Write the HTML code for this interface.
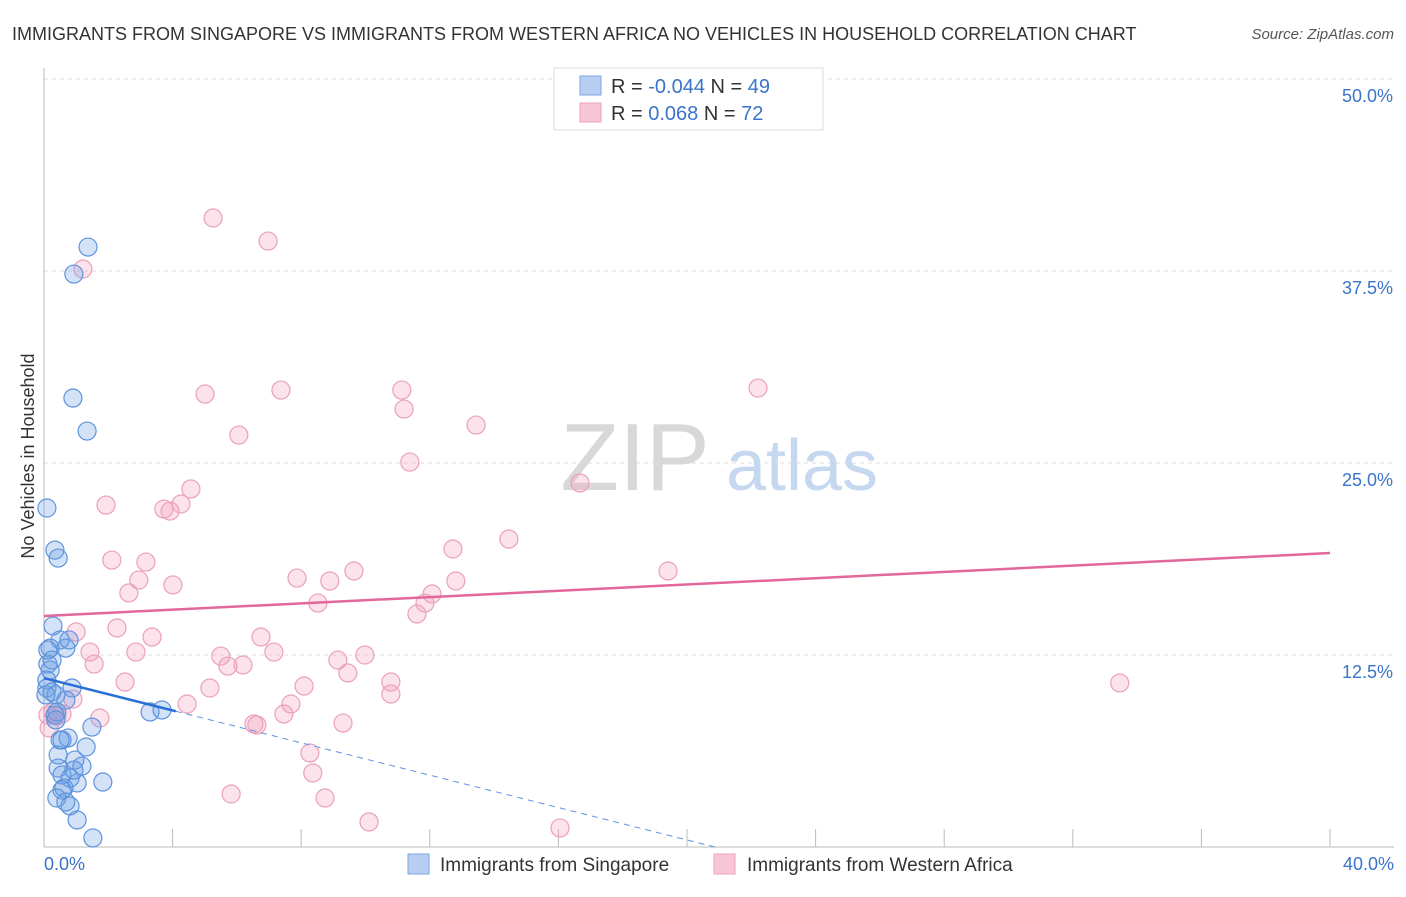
<!DOCTYPE html>
<html><head><meta charset="utf-8"><style>
body{margin:0;background:#fff;font-family:"Liberation Sans",sans-serif;}
svg text{font-family:"Liberation Sans",sans-serif;}
</style></head><body>
<svg id="chart" width="1406" height="892" xmlns="http://www.w3.org/2000/svg">
<text x="12" y="40" font-size="18" fill="#333">IMMIGRANTS FROM SINGAPORE VS IMMIGRANTS FROM WESTERN AFRICA NO VEHICLES IN HOUSEHOLD CORRELATION CHART</text>
<text x="1394" y="39" font-size="15" fill="#555" text-anchor="end" font-style="italic">Source: ZipAtlas.com</text>
<g id="grid"></g>
<g>
<text x="635" y="490" font-size="96" font-family="Liberation Serif,serif" fill="#d8d8d8" text-anchor="middle">ZIP</text>
<text x="802" y="490" font-size="72" fill="#c5d8f0" text-anchor="middle">atlas</text>
</g>
<g id="axes"></g>
<g id="pts"></g>
<g id="trends"></g>
<text transform="translate(34,456) rotate(-90)" font-size="18" fill="#333" text-anchor="middle">No Vehicles in Household</text>
<g>
<rect x="554" y="68" width="269" height="62" fill="#fff" stroke="#ddd"/>
<rect x="580" y="76" width="21" height="19" fill="#b7cff2" stroke="#7ea6e0"/>
<rect x="580" y="103" width="21" height="19" fill="#f7c6d5" stroke="#eea1ba"/>
<text x="611" y="93" font-size="20" fill="#333">R = <tspan fill="#3a74c9">-0.044</tspan>   N = <tspan fill="#3a74c9">49</tspan></text>
<text x="611" y="120" font-size="20" fill="#333">R =   <tspan fill="#3a74c9">0.068</tspan>   N = <tspan fill="#3a74c9"> 72</tspan></text>
</g>
<g>
<rect x="408" y="854" width="21" height="20" fill="#b7cff2" stroke="#7ea6e0"/>
<text x="440" y="871" font-size="19" fill="#333">Immigrants from Singapore</text>
<rect x="714" y="854" width="21" height="20" fill="#f7c6d5" stroke="#eea1ba"/>
<text x="747" y="871" font-size="19" fill="#333">Immigrants from Western Africa</text>
</g>
</svg>
<script>
const blueX=[1.37,0.93,0.90,1.34,0.09,0.34,0.44,0.28,0.50,0.68,0.19,0.12,0.19,0.09,0.09,0.25,0.37,0.87,0.68,0.40,0.34,3.30,3.67,1.49,0.56,0.75,1.31,0.44,0.96,1.18,0.44,0.56,0.81,1.03,1.83,0.62,0.56,0.40,0.68,0.81,1.03,1.52,0.50,0.37,0.06,0.12,0.25,0.78,0.93];
const blueY=[39.06,37.30,29.23,27.08,22.07,19.33,18.81,14.39,13.48,12.95,12.95,11.91,11.52,10.87,10.35,10.09,9.90,10.35,9.57,8.79,8.59,8.79,8.92,7.81,6.97,7.10,6.51,5.99,5.66,5.27,5.14,4.69,4.49,4.17,4.23,3.84,3.71,3.19,2.93,2.67,1.76,0.59,6.97,8.27,9.90,12.82,12.17,13.48,5.01];
const pinkX=[5.26,6.97,1.21,5.01,7.37,11.13,22.21,11.20,6.06,13.44,11.38,16.67,4.57,1.93,4.26,3.73,3.92,14.46,12.72,2.11,3.17,7.87,9.64,19.41,2.95,8.89,4.01,12.81,2.64,12.07,8.52,11.85,11.60,2.27,1.00,3.36,6.75,1.43,2.86,7.15,5.50,9.14,9.98,1.56,5.72,6.19,9.45,2.52,10.79,33.46,8.09,5.16,10.79,0.90,4.45,7.68,0.28,0.56,0.40,7.46,1.74,6.53,6.62,9.30,0.16,8.27,8.36,5.82,8.74,10.11,16.05,0.12];
const pinkY=[40.95,39.45,37.63,29.49,29.75,29.75,29.88,28.51,26.82,27.47,25.06,23.70,23.31,22.26,22.33,22.00,21.87,20.05,19.40,18.68,18.55,17.51,17.97,17.97,17.38,17.32,17.06,17.32,16.54,16.47,15.88,15.88,15.17,14.26,14.00,13.67,13.67,12.69,12.69,12.69,12.43,12.17,12.50,11.91,11.78,11.85,11.33,10.74,10.74,10.68,10.48,10.35,9.96,9.63,9.31,9.31,8.79,8.66,8.53,8.66,8.40,8.01,7.94,8.07,7.75,6.12,4.82,3.45,3.19,1.63,1.24,8.59];
const yTicks=[12.5,25.0,37.5,50.0];
const xTickLabels=["0.0%","40.0%"];
const pinkTrend=[15.04,19.14];
const blueTrend=[11.0,-0.527];
const NS='http://www.w3.org/2000/svg';
const X=v=>44+v/40*1286, Y=v=>847-v/50*768;
function mk(t,a,p){const e=document.createElementNS(NS,t);for(const k in a)e.setAttribute(k,a[k]);p.appendChild(e);return e;}
const grid=document.getElementById('grid'),axes=document.getElementById('axes');
yTicks.forEach(t=>{
 const l=mk('line',{x1:44,x2:1394,y1:Y(t),y2:Y(t),stroke:'#ddd','stroke-dasharray':'4,4'},grid);
 
 
 const tx=mk('text',{x:1393,y:Y(t)+23,'font-size':18,fill:'#3a74c9','text-anchor':'end'},axes);
 tx.textContent=t.toFixed(1)+'%';
 
 
});
mk('line',{x1:44,x2:44,y1:68,y2:847,stroke:'#bbb'},axes);
mk('line',{x1:44,x2:1394,y1:847,y2:847,stroke:'#bbb'},axes);
for(let i=0;i<=10;i++){const t=mk('line',{x1:X(i*4),x2:X(i*4),y1:829,y2:847,stroke:'#bbb'},axes);
 
 }
[[0,'start',44],[1,'end',1394]].forEach(([i,a,x])=>{const t=mk('text',{x:x,y:870,'font-size':18,fill:'#3a74c9','text-anchor':a},axes);t.textContent=xTickLabels[i];
 
 });
const pts=document.getElementById('pts');
pinkX.forEach((x,i)=>{const c=mk('circle',{cx:X(x),cy:Y(pinkY[i]),r:9,fill:'rgba(242,160,188,0.3)',stroke:'#eba0b9','stroke-width':1.2},pts);
 
 });
blueX.forEach((x,i)=>{const c=mk('circle',{cx:X(x),cy:Y(blueY[i]),r:9,fill:'rgba(110,160,230,0.3)',stroke:'#5e93dc','stroke-width':1.2},pts);
 
 });
const tr=document.getElementById('trends');
const pl=mk('line',{x1:X(0),y1:Y(pinkTrend[0]),x2:X(40),y2:Y(pinkTrend[1]),stroke:'#e2679a','stroke-width':2.5},tr);


const bf=x=>blueTrend[0]+blueTrend[1]*x, xEnd=-blueTrend[0]/blueTrend[1];
const bl=mk('line',{x1:X(0),y1:Y(bf(0)),x2:X(4.1),y2:Y(bf(4.1)),stroke:'#2a6fd6','stroke-width':2.5},tr);


const bd=mk('line',{x1:X(4.1),y1:Y(bf(4.1)),x2:X(xEnd),y2:Y(0),stroke:'#5e93dc','stroke-width':1,'stroke-dasharray':'6,5'},tr);


</script>
</body></html>
